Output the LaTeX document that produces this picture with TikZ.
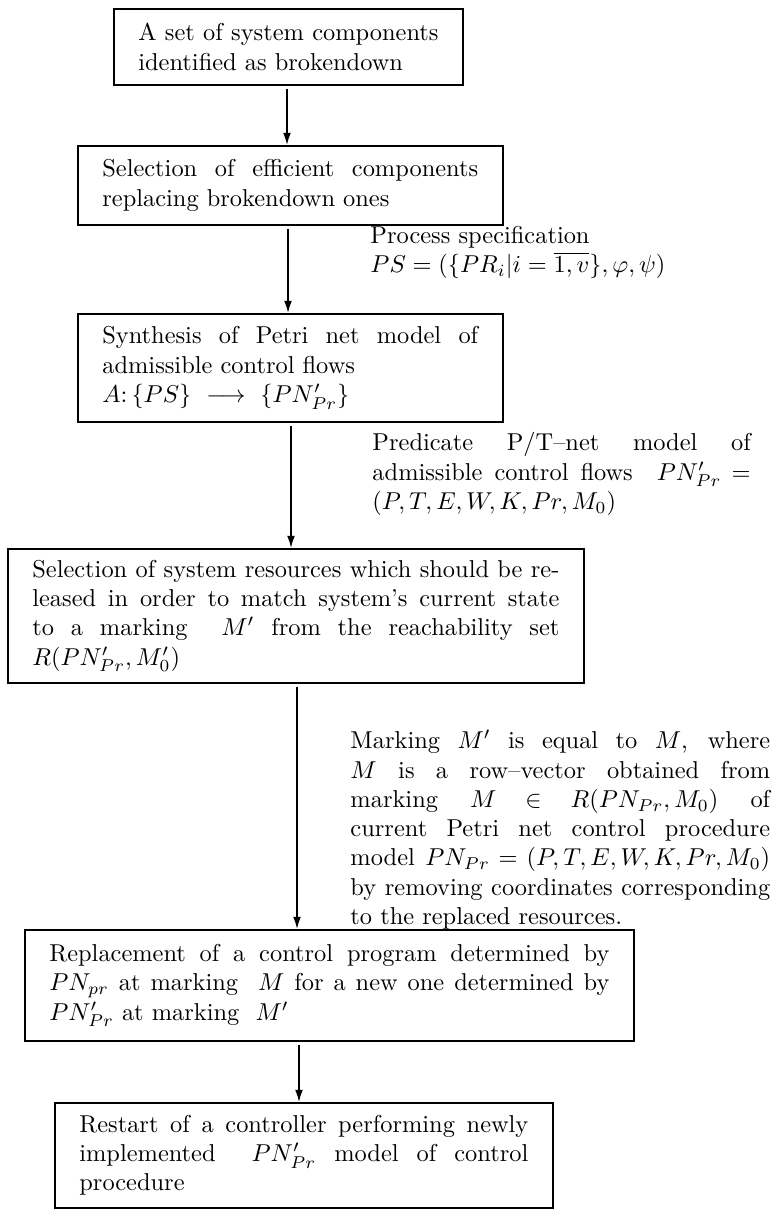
\documentclass[tikz,border=0pt]{standalone}
\usetikzlibrary{arrows.meta}
\newcommand\jline[1]{\leavevmode\hbox to\hsize{\spaceskip=3.33pt plus 3pt minus 1pt\relax #1}\par}
\tikzset{
  stepbox/.style={draw, line width=0.8pt, inner xsep=10pt, inner ysep=0pt, anchor=north west},
  notelabel/.style={inner sep=0pt, anchor=north west},
  flow/.style={line width=0.6pt, shorten <=1.2pt, -{Latex[length=5pt,width=3.2pt]}},
}
\begin{document}
\begin{tikzpicture}[x=0.4098pt, y=-0.4098pt]
\useasboundingbox (0,0) rectangle (772,1209);

\node[stepbox, text width=123pt, minimum height=31.1pt] (b1) at (113,8)
  {\jline{A set of system components}identified as brokendown};

\node[stepbox, text width=154pt, minimum height=32.4pt] (b2) at (77,145)
  {\jline{Selection of efficient components}replacing brokendown ones};

\node[stepbox, text width=154pt, minimum height=44.3pt] (b3) at (77,313)
  {\jline{Synthesis of Petri net model of}admissible control flows\par $A\colon\{PS\}\ \longrightarrow\ \{PN'_{Pr}\}$};

\node[stepbox, text width=216pt, minimum height=54.9pt] (b4) at (7,548)
  {\jline{Selection of system resources which should be re-}\jline{leased in order to match system's current state}\jline{to a marking \ $M'$ from the reachability set}$R(PN'_{Pr},M'_0)$};

\node[stepbox, text width=229.5pt, minimum height=45.5pt] (b5) at (24,929)
  {\jline{Replacement of a control program determined by}\jline{$PN_{pr}$ at marking \ $M$ for a new one determined by}$PN'_{Pr}$ at marking \ $M'$};

\node[stepbox, text width=184pt, minimum height=43pt] (b6) at (54,1102)
  {\jline{Restart of a controller performing newly}\jline{implemented \ $PN'_{Pr}$ model of control}procedure};

\node[notelabel, text width=150pt] (l1) at (370,226)
  {Process specification\par $PS=(\{PR_i|i=\overline{1,v}\},\varphi,\psi)$};

\node[notelabel, text width=155pt] (l2) at (372,432)
  {\jline{Predicate P/T--net model of}\jline{admissible control flows \ $PN'_{Pr}=$}$(P,T,E,W,K,Pr,M_0)$};

\node[notelabel, text width=172pt] (l3) at (350,730)
  {\jline{Marking $M'$ is equal to $M$, where}\jline{$M$ is a row--vector obtained from}\jline{marking $M\in R(PN_{Pr},M_0)$ of}\jline{current Petri net control procedure}\jline{model $PN_{Pr}=(P,T,E,W,K,Pr,M_0)$}\jline{by removing coordinates corresponding}to the replaced resources.};

\coordinate (a1) at (287,0);
\coordinate (a2) at (288,0);
\coordinate (a3) at (291,0);
\coordinate (a4) at (297,0);
\coordinate (a5) at (299,0);

\draw[flow] (b1.south -| a1) -- (b2.north -| a1);
\draw[flow] (b2.south -| a2) -- (b3.north -| a2);
\draw[flow] (b3.south -| a3) -- (b4.north -| a3);
\draw[flow] (b4.south -| a4) -- (b5.north -| a4);
\draw[flow] (b5.south -| a5) -- (b6.north -| a5);
\end{tikzpicture}
\end{document}
